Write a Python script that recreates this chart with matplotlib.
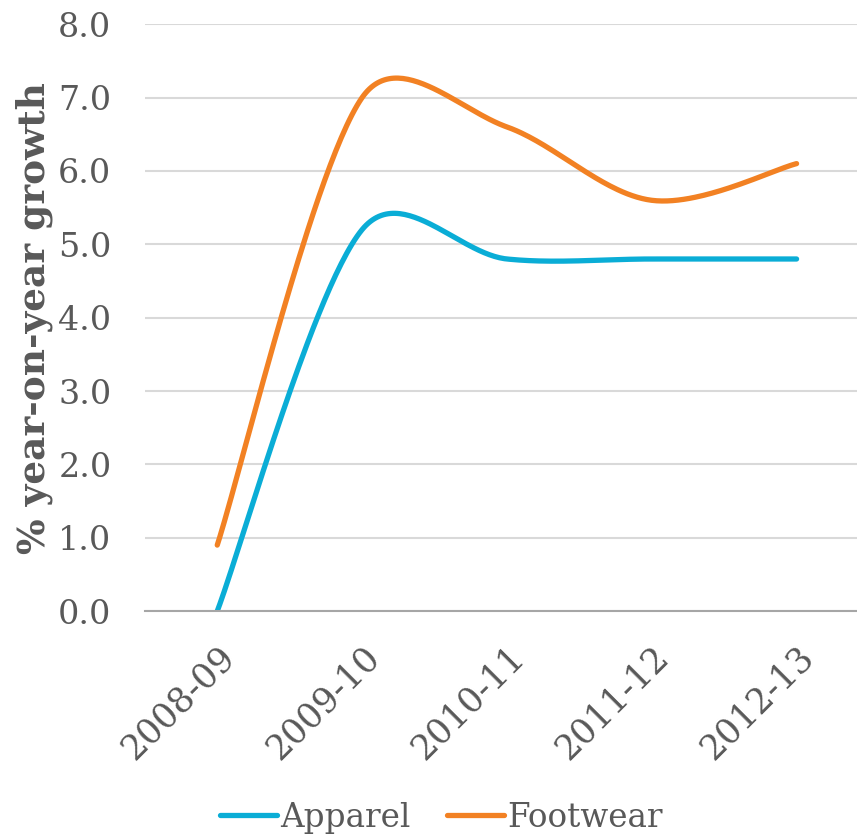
import numpy as np
import matplotlib.pyplot as plt

years = ['2008-09', '2009-10', '2010-11', '2011-12', '2012-13']
apparel = [0.0, 5.2, 4.8, 4.8, 4.8]
footwear = [0.9, 7.0, 6.6, 5.6, 6.1]

txt = '#595959'
plt.rcParams['font.family'] = ['DejaVu Serif']


# excel style smoothed line: bezier with 1/6 tangents, shortened on short segments
# (done in pixel space, sx / sy = pixels per data unit)
def smooth(y, sx, sy, n=60):
    x = np.arange(len(y), dtype=float)
    p = np.column_stack([x * sx, np.array(y, dtype=float) * sy])
    pts = []
    for i in range(len(p) - 1):
        p0 = p[i - 1] if i > 0 else p[i]
        p3 = p[i + 2] if i + 2 < len(p) else p[i + 1]
        d12 = np.hypot(*(p[i + 1] - p[i]))
        t1 = (p[i + 1] - p0) / 6
        t2 = (p3 - p[i]) / 6
        lim = 0.42 * d12
        if np.hypot(*t1) > lim:
            t1 = t1 * lim / np.hypot(*t1)
        if np.hypot(*t2) > lim:
            t2 = t2 * lim / np.hypot(*t2)
        c1 = p[i] + t1
        c2 = p[i + 1] - t2
        t = np.linspace(0, 1, n)[:, None]
        seg = ((1 - t) ** 3 * p[i] + 3 * (1 - t) ** 2 * t * c1
               + 3 * (1 - t) * t ** 2 * c2 + t ** 3 * p[i + 1])
        pts.append(seg)
    pts = np.vstack(pts)
    return pts[:, 0] / sx, pts[:, 1] / sy


fig = plt.figure(figsize=(8.57, 8.36), dpi=100)
ax = fig.add_axes([0.169, 0.269, 0.845, 0.702])
ax.set_xlim(-0.5, 4.5)
ax.set_ylim(0, 8)

pos = ax.get_position()
sx = pos.width * 857 / 5
sy = pos.height * 836 / 8

xa, ya = smooth(apparel, sx, sy)
xf, yf = smooth(footwear, sx, sy)
ax.plot(xa, ya, color='#0AADD6', lw=3.8, solid_capstyle='round', label='Apparel')
ax.plot(xf, yf, color='#F28123', lw=3.8, solid_capstyle='round', label='Footwear')

ax.set_yticks(np.arange(0, 9, 1))
ax.set_yticklabels(['%.1f' % v for v in np.arange(0, 9, 1)])
ax.set_xticks(range(len(years)))
ax.set_xticklabels(years, rotation=45, ha='right', rotation_mode='anchor')
ax.grid(axis='y', color='#D9D9D9', lw=1.5)
ax.set_axisbelow(True)
for s in ['top', 'right', 'left']:
    ax.spines[s].set_visible(False)
ax.spines['bottom'].set_color('#A6A6A6')
ax.spines['bottom'].set_linewidth(1.5)
ax.tick_params(length=0, labelsize=24, colors=txt)
ax.tick_params(axis='y', pad=24)
ax.tick_params(axis='x', labelsize=25, pad=20)
ax.set_ylabel('% year-on-year growth', fontsize=27, fontweight='bold', color=txt, labelpad=4)

fig.legend(loc='center', bbox_to_anchor=(0.515, 0.022), ncol=2, frameon=False,
           fontsize=23.5, handlelength=1.75, handletextpad=0.1, columnspacing=1.1,
           labelcolor=txt)

fig.savefig('out.png', dpi=100)
